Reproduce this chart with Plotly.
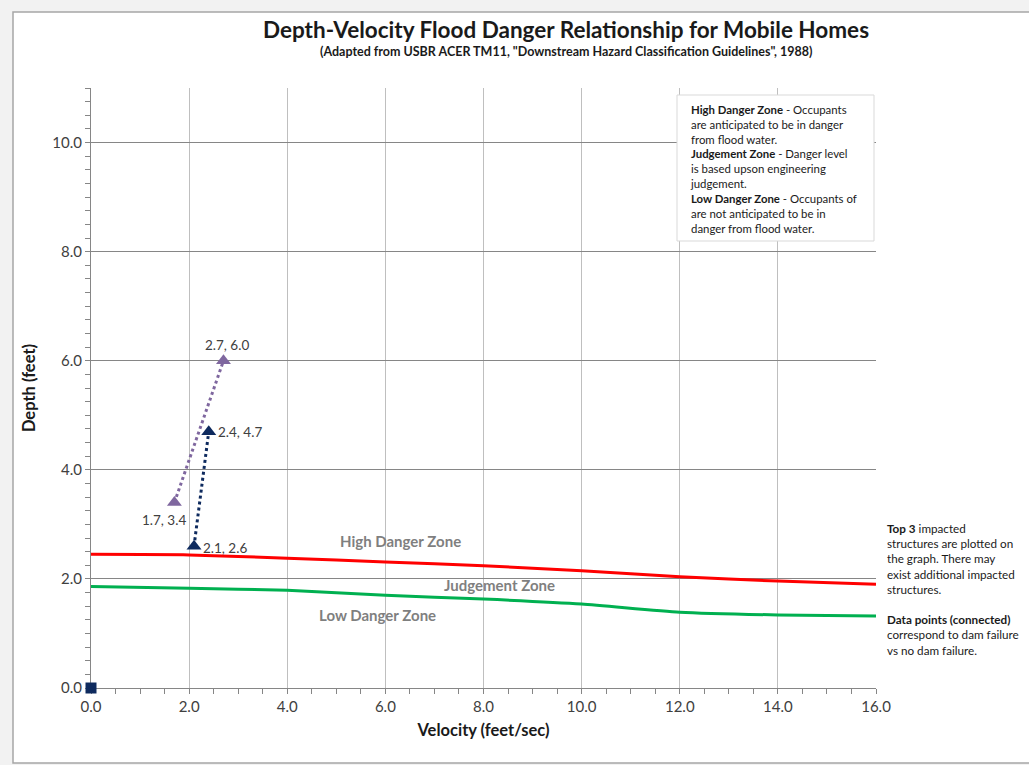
import plotly.graph_objects as go

# ---- data ----
velocity_grid = [0, 2, 4, 6, 8, 10, 12, 14, 16]
high_danger_boundary = [2.45, 2.44, 2.38, 2.31, 2.24, 2.15, 2.04, 1.96, 1.90]
low_danger_boundary = [1.86, 1.83, 1.79, 1.70, 1.63, 1.54, 1.39, 1.34, 1.32]

origin_x = [0.0]
origin_y = [0.0]

struct_a_x = [1.7, 2.7]
struct_a_y = [3.4, 6.0]
struct_a_labels = ["1.7, 3.4", "2.7, 6.0"]

struct_b_x = [2.1, 2.4]
struct_b_y = [2.6, 4.7]
struct_b_labels = ["2.1, 2.6", "2.4, 4.7"]

x_ticks = [0, 2, 4, 6, 8, 10, 12, 14, 16]
y_ticks = [0, 2, 4, 6, 8, 10]

FONT = "Lato"
GRAY_TXT = "#404040"

# plot area in pixels
L, R, T, B = 91, 153, 88, 77
W, H = 1029, 765
PW = W - L - R
PH = H - T - B


def px(xp):
    return (xp - L) / PW


def py(yp):
    return (H - B - yp) / PH


fig = go.Figure()

fig.add_trace(go.Scatter(x=velocity_grid, y=high_danger_boundary, mode="lines",
                         line=dict(color="#FF0000", width=3, shape="spline", smoothing=0.6),
                         hoverinfo="skip"))
fig.add_trace(go.Scatter(x=velocity_grid, y=low_danger_boundary, mode="lines",
                         line=dict(color="#00B050", width=3, shape="spline", smoothing=0.6),
                         hoverinfo="skip"))

fig.add_trace(go.Scatter(x=struct_a_x, y=struct_a_y, mode="lines+markers",
                         line=dict(color="#7F679F", width=3, dash="dot"),
                         marker=dict(symbol="triangle-up", size=13, color="#7F679F"),
                         cliponaxis=False))
fig.add_trace(go.Scatter(x=struct_b_x, y=struct_b_y, mode="lines+markers",
                         line=dict(color="#0E2A5E", width=3, dash="dot"),
                         marker=dict(symbol="triangle-up", size=13, color="#0E2A5E"),
                         cliponaxis=False))
fig.add_trace(go.Scatter(x=origin_x, y=origin_y, mode="markers",
                         marker=dict(symbol="square", size=11, color="#0E2A5E"),
                         cliponaxis=False))

shapes = [
    # outer chart frame
    dict(type="rect", xref="paper", yref="paper", layer="below",
         x0=px(13), x1=px(1040), y0=py(763), y1=py(12),
         fillcolor="white", line=dict(color="#A6A6A6", width=1.5)),
    # info box
    dict(type="rect", xref="paper", yref="paper", layer="above",
         x0=px(677), x1=px(874), y0=py(241), y1=py(95),
         fillcolor="white", line=dict(color="#D9D9D9", width=1)),
]

info_text = ("<b>High Danger Zone</b> - Occupants<br>"
             "are anticipated to be in danger<br>"
             "from flood water.<br>"
             "<b>Judgement Zone</b> - Danger level<br>"
             "is based upson engineering<br>"
             "judgement.<br>"
             "<b>Low Danger Zone</b> - Occupants of<br>"
             "are not anticipated to be in<br>"
             "danger from flood water.")

note_text = ("<b>Top 3</b> impacted<br>"
             "structures are plotted on<br>"
             "the graph. There may<br>"
             "exist additional impacted<br>"
             "structures.<br>"
             "<br>"
             "<b>Data points (connected)</b><br>"
             "correspond to dam failure<br>"
             "vs no dam failure.")

zone_font = dict(family=FONT, size=15, color="#7F7F7F")
label_font = dict(family=FONT, size=13.5, color=GRAY_TXT)

annotations = [
    dict(text="<b>Depth-Velocity Flood Danger Relationship for Mobile Homes</b>",
         xref="paper", yref="paper", x=px(566), y=py(30), xanchor="center", yanchor="middle",
         showarrow=False, font=dict(family=FONT, size=22.5, color="#1a1a1a")),
    dict(text="<b>(Adapted from USBR ACER TM11, \"Downstream Hazard Classification Guidelines\", 1988)</b>",
         xref="paper", yref="paper", x=px(566), y=py(52), xanchor="center", yanchor="middle",
         showarrow=False, font=dict(family=FONT, size=12.5, color="#1a1a1a")),
    dict(text=info_text, xref="paper", yref="paper", x=px(688), y=py(101),
         xanchor="left", yanchor="top", align="left", showarrow=False,
         font=dict(family=FONT, size=11.4, color="#1a1a1a")),
    dict(text=note_text, xref="paper", yref="paper", x=px(885), y=py(519),
         xanchor="left", yanchor="top", align="left", showarrow=False,
         font=dict(family=FONT, size=11.7, color="#1a1a1a")),
    dict(text="<b>High Danger Zone</b>", x=6.3, y=2.69, xref="x", yref="y",
         showarrow=False, font=zone_font),
    dict(text="<b>Judgement Zone</b>", x=8.33, y=1.89, xref="x", yref="y",
         showarrow=False, font=zone_font),
    dict(text="<b>Low Danger Zone</b>", x=5.83, y=1.34, xref="x", yref="y",
         showarrow=False, font=zone_font),
]

# data labels: (x, y, text) from the series arrays, with placement offsets
label_specs = [
    (struct_a_x[0], struct_a_y[0], struct_a_labels[0], "center", -10, -17),
    (struct_a_x[1], struct_a_y[1], struct_a_labels[1], "center", 4, 16),
    (struct_b_x[0], struct_b_y[0], struct_b_labels[0], "left", 7, -2),
    (struct_b_x[1], struct_b_y[1], struct_b_labels[1], "left", 7, 0),
]
for lx, ly, lt, anchor, xs, ys in label_specs:
    annotations.append(dict(text=lt, x=lx, y=ly, xref="x", yref="y", showarrow=False,
                            xanchor=anchor, yanchor="middle", xshift=xs, yshift=ys,
                            font=label_font))

fig.update_layout(
    width=W, height=H,
    margin=dict(l=L, r=R, t=T, b=B, pad=0),
    paper_bgcolor="#F2F2F2",
    plot_bgcolor="white",
    showlegend=False,
    shapes=shapes,
    annotations=annotations,
    font=dict(family=FONT, color=GRAY_TXT),
)

fig.update_xaxes(range=[0, 16], tickvals=x_ticks, ticktext=[f"{v:.1f}" for v in x_ticks],
                 showgrid=True, gridcolor="#BFBFBF", gridwidth=1, layer="below traces",
                 showline=True, linecolor="#868686", linewidth=1,
                 zeroline=False, ticks="outside", ticklen=5, tickcolor="#868686",
                 minor=dict(dtick=0.5, tick0=0, ticks="outside", ticklen=5, tickcolor="#868686", showgrid=False),
                 tickfont=dict(family=FONT, size=15, color=GRAY_TXT),
                 title=dict(text="<b>Velocity (feet/sec)</b>", standoff=10,
                            font=dict(family=FONT, size=16.5, color="#1a1a1a")))
fig.update_yaxes(range=[0, 11], tickvals=y_ticks, ticktext=[f"{v:.1f}" for v in y_ticks],
                 showgrid=True, gridcolor="#868686", gridwidth=1, layer="below traces",
                 showline=True, linecolor="#868686", linewidth=1,
                 zeroline=False, ticks="outside", ticklen=5, tickcolor="#868686",
                 minor=dict(dtick=0.25, tick0=0, ticks="outside", ticklen=5, tickcolor="#868686", showgrid=False),
                 tickfont=dict(family=FONT, size=15, color=GRAY_TXT),
                 title=dict(text="<b>Depth (feet)</b>", standoff=12,
                            font=dict(family=FONT, size=16.5, color="#1a1a1a")))

fig.write_html("out.html", config={"displayModeBar": False},
               post_script="document.body.style.margin='0';")
